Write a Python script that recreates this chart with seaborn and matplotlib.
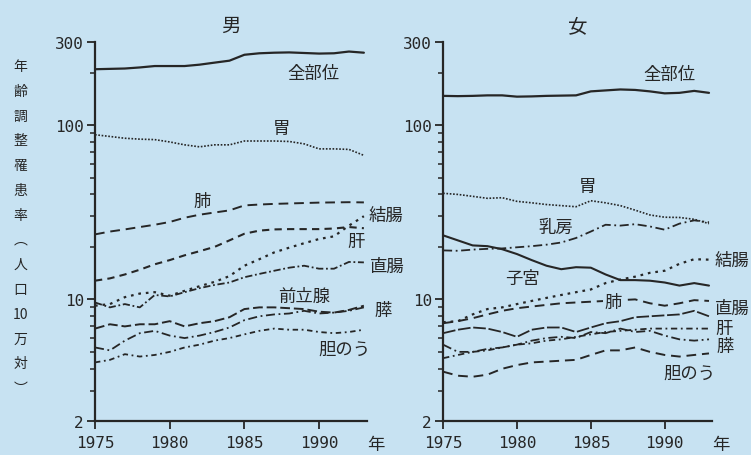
import numpy as np
import pandas as pd
import matplotlib
matplotlib.use("Agg")
import matplotlib.pyplot as plt
import matplotlib.ticker as mticker
import seaborn as sns

# Data (log scale, per 100,000)
years = list(range(1975, 1994))

male_all = [209, 210, 211, 214, 218, 218, 218, 222, 228, 234, 253, 258, 260, 261, 259, 257, 258, 264, 260]
male_stomach = [88, 86, 84, 83, 82.5, 80, 77, 75, 77, 77, 81, 81, 81, 80.5, 78, 73, 73, 72.5, 67]
male_lung = [23.6, 24.5, 25.2, 26.0, 26.8, 27.8, 29.4, 30.6, 31.5, 32.4, 34.6, 35.0, 35.3, 35.5, 35.7, 35.9, 36.0, 36.1, 36.0]
male_colon = [9.2, 9.4, 10.3, 10.8, 11.0, 10.5, 11.2, 11.9, 12.6, 13.6, 15.6, 17.0, 18.6, 19.8, 21.0, 22.2, 23.0, 26.5, 30.0]
male_liver = [12.8, 13.2, 13.9, 14.8, 15.9, 16.8, 17.9, 18.9, 20.0, 21.8, 23.8, 24.8, 25.2, 25.3, 25.3, 25.3, 25.5, 26.0, 25.6]
male_rectum = [9.6, 9.0, 9.4, 9.0, 10.6, 10.4, 11.0, 11.6, 12.1, 12.5, 13.4, 14.0, 14.6, 15.2, 15.6, 15.0, 15.0, 16.4, 16.3]
male_prostate = [6.8, 7.2, 7.0, 7.2, 7.2, 7.5, 7.0, 7.3, 7.5, 7.9, 8.8, 9.0, 9.0, 8.9, 8.8, 8.5, 8.4, 8.7, 9.2]
male_pancreas = [5.3, 5.1, 5.8, 6.4, 6.6, 6.2, 6.0, 6.2, 6.5, 6.9, 7.6, 8.0, 8.2, 8.3, 8.6, 8.3, 8.4, 8.6, 9.0]
male_gallbladder = [4.35, 4.5, 4.85, 4.7, 4.8, 5.0, 5.3, 5.5, 5.8, 6.0, 6.3, 6.6, 6.8, 6.7, 6.7, 6.5, 6.4, 6.5, 6.7]

female_all = [147, 146.5, 147, 148, 148, 145.5, 146, 147, 147.5, 148, 156, 158, 160, 159, 156, 152, 153, 157, 153]
female_stomach = [40.6, 40.0, 39.0, 38.0, 38.3, 36.5, 35.8, 35.0, 34.5, 34.0, 36.8, 35.8, 34.5, 32.5, 30.5, 29.6, 29.5, 28.8, 27.2]
female_breast = [19.1, 19.0, 19.3, 19.5, 19.6, 19.9, 20.2, 20.6, 21.2, 22.5, 24.5, 26.8, 26.5, 27.0, 26.2, 25.1, 27.2, 28.4, 27.7]
female_uterus = [23.3, 21.8, 20.4, 20.2, 19.4, 18.2, 16.8, 15.6, 14.9, 15.3, 15.2, 13.9, 12.9, 12.9, 12.8, 12.5, 12.0, 12.4, 12.0]
female_colon = [7.4, 7.5, 8.2, 8.8, 9.0, 9.4, 9.8, 10.2, 10.6, 11.0, 11.4, 12.4, 13.0, 13.5, 14.2, 14.6, 16.0, 17.0, 16.9]
female_lung = [7.3, 7.5, 7.8, 8.2, 8.6, 8.9, 9.1, 9.3, 9.5, 9.6, 9.7, 9.8, 9.9, 10.0, 9.5, 9.2, 9.5, 9.9, 9.8]
female_rectum = [6.4, 6.7, 6.9, 6.8, 6.5, 6.1, 6.7, 6.9, 6.9, 6.5, 6.9, 7.3, 7.5, 7.9, 8.0, 8.1, 8.2, 8.6, 8.0]
female_liver = [4.6, 4.8, 5.0, 5.1, 5.3, 5.5, 5.6, 5.8, 5.9, 6.1, 6.3, 6.5, 6.6, 6.7, 6.8, 6.8, 6.8, 6.8, 6.8]
female_pancreas = [5.5, 5.0, 5.0, 5.2, 5.3, 5.5, 5.8, 6.0, 6.1, 6.0, 6.5, 6.4, 6.8, 6.5, 6.6, 6.2, 5.9, 5.8, 5.9]
female_gallbladder = [3.85, 3.65, 3.6, 3.7, 4.0, 4.2, 4.35, 4.4, 4.45, 4.5, 4.8, 5.1, 5.1, 5.3, 5.0, 4.8, 4.7, 4.8, 4.9]

y_ticks = [2, 10, 100, 300]
x_ticks = [1975, 1980, 1985, 1990]

bg = "#c7e2f2"
ink = "#262626"

sns.set_theme(style="ticks")
plt.rcParams["font.family"] = ["Noto Sans CJK JP", "DejaVu Sans"]

# series: name, values, linestyle, linewidth, label position (year, value, ha)
male_series = [
    ("全部位", male_all, "-", 1.6, (1989.6, 198, "center")),
    ("胃", male_stomach, (0, (1, 1)), 1.2, (1987.5, 96, "center")),
    ("肺", male_lung, (0, (5, 3)), 1.4, (1982.2, 36.5, "center")),
    ("結腸", male_colon, (0, (1.2, 2.2)), 1.6, (1993.3, 30.6, "left")),
    ("肝", male_liver, (0, (3.5, 2.5)), 1.5, (1992.5, 21.7, "center")),
    ("直腸", male_rectum, (0, (4, 1.5, 1, 1.5)), 1.3, (1993.4, 15.6, "left")),
    ("前立腺", male_prostate, (0, (5, 2)), 1.4, (1989.0, 10.5, "center")),
    ("膵", male_pancreas, (0, (5, 2, 1, 2)), 1.3, (1993.7, 8.7, "left")),
    ("胆のう", male_gallbladder, (0, (3, 2, 1, 2)), 1.3, (1991.7, 5.2, "center")),
]
female_series = [
    ("全部位", female_all, "-", 1.6, (1990.3, 197, "center")),
    ("胃", female_stomach, (0, (1, 1)), 1.2, (1984.8, 44.5, "center")),
    ("乳房", female_breast, (0, (5, 2, 1, 2)), 1.3, (1982.6, 25.9, "center")),
    ("子宮", female_uterus, "-", 1.5, (1980.4, 13.3, "center")),
    ("結腸", female_colon, (0, (1.2, 2.2)), 1.6, (1993.4, 16.8, "left")),
    ("肺", female_lung, (0, (5, 3)), 1.4, (1986.5, 9.7, "center")),
    ("直腸", female_rectum, (0, (7, 1.5)), 1.3, (1993.4, 8.9, "left")),
    ("肝", female_liver, (0, (3.5, 2, 1, 2)), 1.3, (1993.4, 6.9, "left")),
    ("膵", female_pancreas, (0, (5, 2, 1, 2)), 1.3, (1993.5, 5.4, "left")),
    ("胆のう", female_gallbladder, (0, (5, 3)), 1.4, (1991.7, 3.8, "center")),
]

fig = plt.figure(figsize=(7.51, 4.56), dpi=100, facecolor=bg)
ax_m = fig.add_axes([0.1265, 0.074, 0.362, 0.832])
ax_f = fig.add_axes([0.590, 0.074, 0.358, 0.832])

for ax, series, title in [(ax_m, male_series, "男"), (ax_f, female_series, "女")]:
    ax.set_facecolor(bg)
    for name, vals, ls, lw, (lx, ly, ha) in series:
        df = pd.DataFrame({"year": years, "rate": vals})
        sns.lineplot(data=df, x="year", y="rate", ax=ax, color=ink,
                     linestyle=ls, linewidth=lw)
        txt = ax.text(lx, ly, name, ha=ha, va="center", fontsize=12.5, color=ink)
        # the female 肺 label sits on its own line
        if title == "女" and name == "肺":
            txt.set_bbox(dict(facecolor=bg, edgecolor="none", pad=1))
    ax.set_yscale("log")
    ax.set_ylim(2, 300)
    ax.set_xlim(1975, 1993.2)
    ax.set_yticks(y_ticks)
    ax.yaxis.set_major_formatter(mticker.FixedFormatter([str(t) for t in y_ticks]))
    ax.yaxis.set_minor_locator(mticker.LogLocator(base=10, subs=np.arange(2, 10)))
    ax.yaxis.set_minor_formatter(mticker.NullFormatter())
    ax.set_xticks(x_ticks)
    ax.set_xlabel("")
    ax.set_ylabel("")
    ax.set_title(title, fontsize=14, color=ink, pad=8)
    for side in ["top", "right"]:
        ax.spines[side].set_visible(False)
    for side in ["left", "bottom"]:
        ax.spines[side].set_linewidth(1.6)
        ax.spines[side].set_color(ink)
    ax.tick_params(axis="both", which="major", length=6, width=1.3, colors=ink,
                   labelsize=11.5, labelcolor=ink, pad=2)
    ax.tick_params(axis="x", which="major", pad=4)
    ax.tick_params(axis="y", which="minor", length=3.5, width=1.1, colors=ink)
    for lab in ax.get_xticklabels() + ax.get_yticklabels():
        lab.set_family("DejaVu Sans Mono")
    ax.text(1.0, -0.035, "年", transform=ax.transAxes, ha="left", va="top",
            fontsize=12.5, color=ink)

ylabel_chars = ["年", "齢", "調", "整", "罹", "患", "率", "︵", "人", "口", "10", "万", "対", "︶"]
fig.text(0.027, 0.50, "\n".join(ylabel_chars), ha="center", va="center",
         fontsize=10, color=ink, linespacing=1.98)

fig.savefig("out.png", dpi=100, facecolor=bg)
